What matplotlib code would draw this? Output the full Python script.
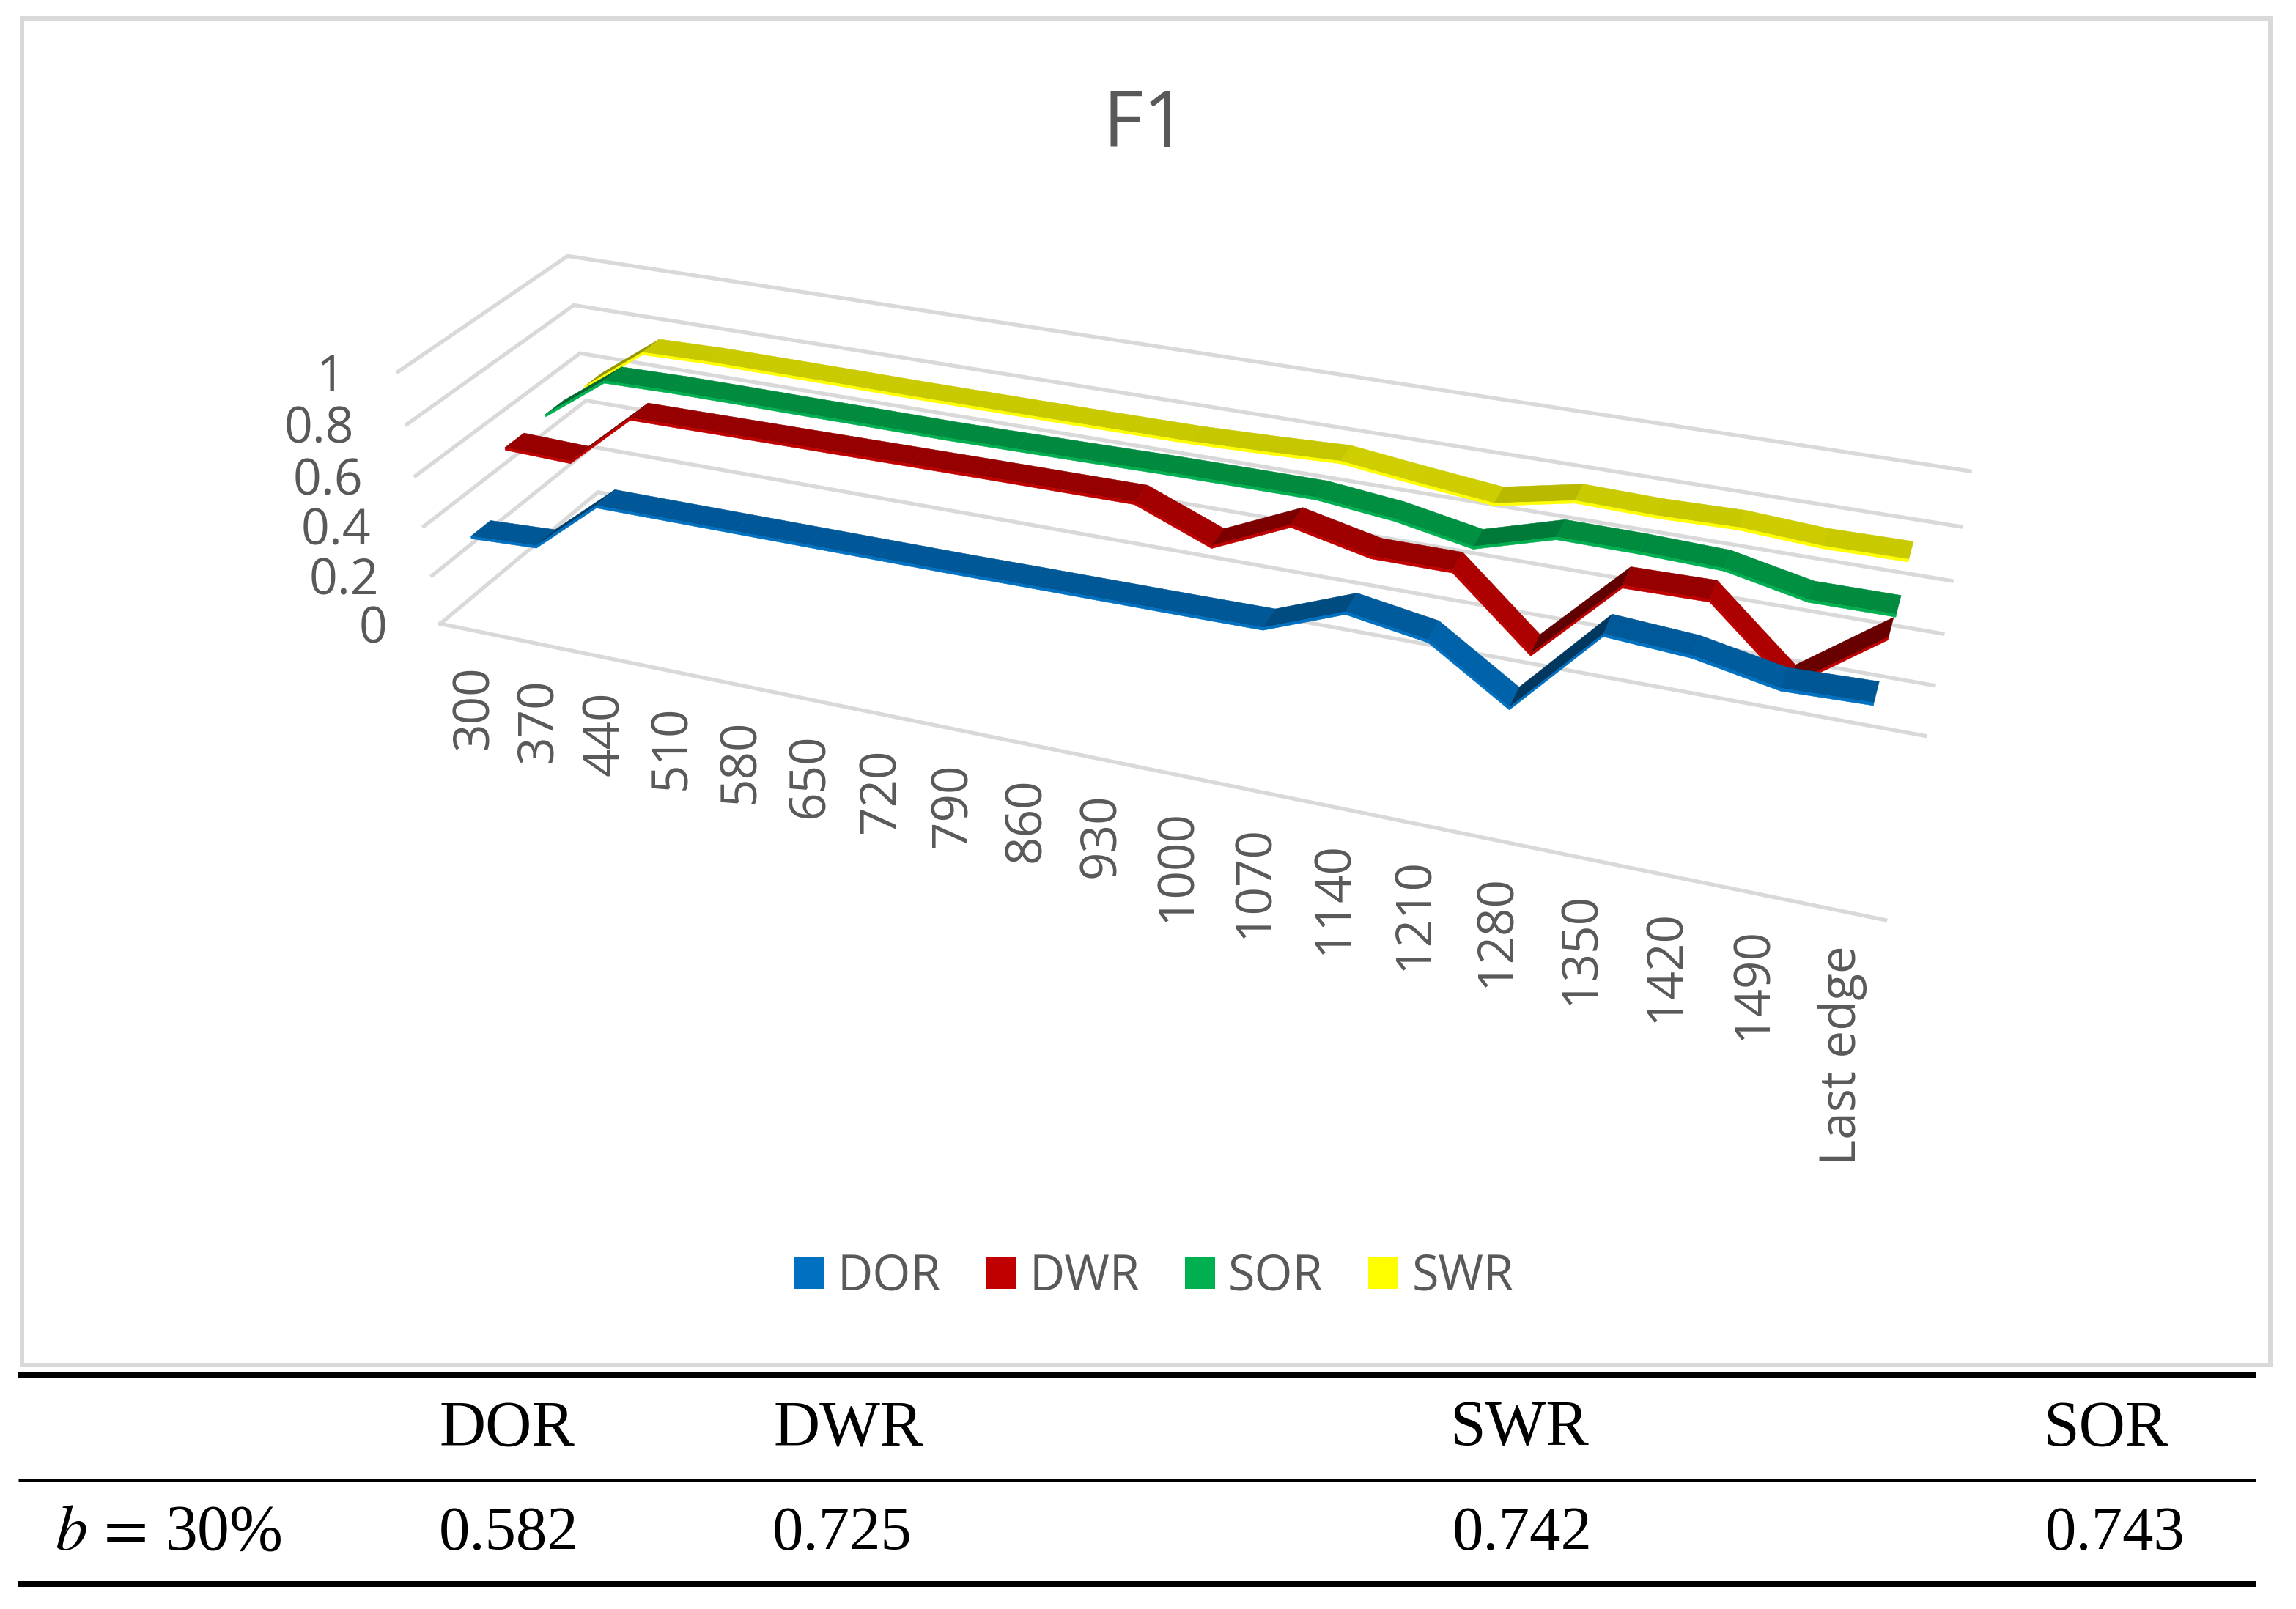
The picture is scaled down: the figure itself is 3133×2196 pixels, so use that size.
import numpy as np
import matplotlib
matplotlib.use("Agg")
import matplotlib.pyplot as plt
from matplotlib.patches import Polygon, Rectangle, Patch

# ---------- data ----------
categories = ['300','370','440','510','580','650','720','790','860','930','1000','1070','1140','1210','1280','1350','1420','1490','Last edge']
series_names = ['DOR','DWR','SOR','SWR']
series_colors = ['#0070C0','#C00000','#00B050','#FFFF00']
DOR = [0.346,0.359,0.568,0.568,0.568,0.568,0.568,0.568,0.570,0.571,0.572,0.574,0.686,0.639,0.452,0.772,0.752,0.695,0.703]
DWR = [0.569,0.562,0.779,0.781,0.783,0.785,0.787,0.789,0.790,0.791,0.678,0.806,0.743,0.743,0.492,0.794,0.798,0.548,0.774]
SOR = [0.577,0.757,0.762,0.762,0.761,0.761,0.760,0.763,0.766,0.770,0.771,0.771,0.741,0.688,0.774,0.772,0.763,0.703,0.704]
SWR = [0.570,0.752,0.758,0.757,0.756,0.754,0.754,0.754,0.755,0.756,0.764,0.775,0.742,0.712,0.771,0.765,0.771,0.754,0.757]
series_values = [DOR, DWR, SOR, SWR]
value_ticks = [0, 0.2, 0.4, 0.6, 0.8, 1]
tick_labels = ['0','0.2','0.4','0.6','0.8','1']
table_header = ['DOR','DWR','SWR','SOR']
table_values = ['0.582','0.725','0.742','0.743']
table_row = r'$b\,=\,$30%'

# ---------- view of the 3-D chart box, from its corners (pixels) ----------
zs=[1,.8,.6,.4,.2,0]
fl=[(543,507.5),(555,580),(566,650),(579,718),(590,785),(601,851)]
bl=[(775.5,349),(783,416),(792,482.5),(799.5,547),(806,609),(817,672)]
br=[(2688,642),(2675.5,719),(2663,793),(2651,865),(2639,936),(2627,1005)]
pts3=[];pts2=[]
for z,a,b,c in zip(zs,fl,bl,br):
    pts3+=[(0,0,z),(0,1,z),(1,1,z)]; pts2+=[a,b,c]
pts3.append((1,0,0)); pts2.append((2573,1255))
A=[]
for (x,y,z),(u,v) in zip(pts3,pts2):
    A.append([x,y,z,1,0,0,0,0,-u*x,-u*y,-u*z,-u])
    A.append([0,0,0,0,x,y,z,1,-v*x,-v*y,-v*z,-v])
H=np.linalg.svd(np.array(A,float))[2][-1].reshape(3,4)
def project(x,y,z):
    p=H@np.array([x,y,z,1.0]); return p[0]/p[2],p[1]/p[2]

GREY='#D9D9D9'; TXT='#595959'; SANS='Open Sans'; SERIF='Liberation Serif'
plt.rcParams['mathtext.fontset']='stix'
RIB=0.115; THICK=0.01; N=len(categories)

fig=plt.figure(figsize=(31.33,21.96),dpi=100)
ax=fig.add_axes([0,0,1,1]); ax.set_xlim(0,3133); ax.set_ylim(2196,0); ax.axis('off')

# frame
ax.add_patch(Rectangle((29.5,25),3068.5,1838,fc='white',ec=GREY,lw=4.3,zorder=0))

# grid
for z in value_ticks:
    ax.plot(*zip(project(0,0,z),project(0,1,z),project(1,1,z)),color=GREY,lw=3.8,zorder=1,solid_joinstyle='miter')
ax.plot(*zip(project(0,0,0),project(1,0,0)),color=GREY,lw=3.8,zorder=1)

# ribbons, back to front
order=3
for s in [3,2,1,0]:
    y0=(s+.5)/4-0.055; y1=y0+RIB; v=series_values[s]
    c=np.array(matplotlib.colors.to_rgb(series_colors[s]))
    for i in range(N-1):
        X0,X1=(i+.5)/N,(i+1.5)/N
        dv=v[i+1]-v[i]
        f=0.79-1.1*dv if dv>0 else 0.79+0.5*abs(dv)
        f=float(np.clip(f,0.5,0.9))
        ax.add_patch(Polygon([project(X0,y1,v[i]),project(X1,y1,v[i+1]),project(X1,y0,v[i+1]),project(X0,y0,v[i])],
                             fc=c*f,ec=c*f,lw=.4,zorder=order))
        ax.add_patch(Polygon([project(X0,y0,v[i]),project(X1,y0,v[i+1]),project(X1,y0,v[i+1]-THICK),project(X0,y0,v[i]-THICK)],
                             fc=c,ec=c,lw=.4,zorder=order+.5))
    order+=1

# value labels
for z,l in zip(value_ticks,tick_labels):
    px,py=project(0,0,z)
    ax.text(px-72,py+8,l,ha='right',va='center',fontsize=49,color=TXT,family=SANS)

# category labels
for i,l in enumerate(categories):
    px,py=project((i+.5)/N,0,0)
    ax.text(px+3,py+47,l,rotation=90,ha='center',va='top',fontsize=48.5,color=TXT,family=SANS)

# title
ax.text(1563,200,'F1',ha='center',va='baseline',fontsize=77,color=TXT,family=SANS)

# legend
handles=[Patch(fc=c,ec='none',label=n) for n,c in zip(series_names,series_colors)]
ax.legend(handles=handles,loc='center',bbox_to_anchor=(1574/3133,1-1743/2196),ncol=4,frameon=False,
          prop={'family':SANS,'size':48},labelcolor=TXT,handlelength=0.62,handleheight=0.62,
          handletextpad=0.27,columnspacing=0.92,borderpad=0)

# table
for y,h in [(1877,8),(2019.5,5),(2162,8)]:
    ax.plot([25,3078],[y,y],color='black',lw=h*0.72,solid_capstyle='butt',zorder=1)
col_x=[600,1055,1978,2788]
val_x=[599,1054,1982,2791]
for x,t in zip(col_x,table_header):
    ax.text(x,1973,t,ha='left',va='baseline',fontsize=63,color='black',family=SERIF)
for x,t in zip(val_x,table_values):
    ax.text(x,2115,t,ha='left',va='baseline',fontsize=61,color='black',family=SERIF)
ax.text(75,2115,table_row,ha='left',va='baseline',fontsize=63,color='black',family=SERIF)

fig.savefig('out.png',dpi=100)
